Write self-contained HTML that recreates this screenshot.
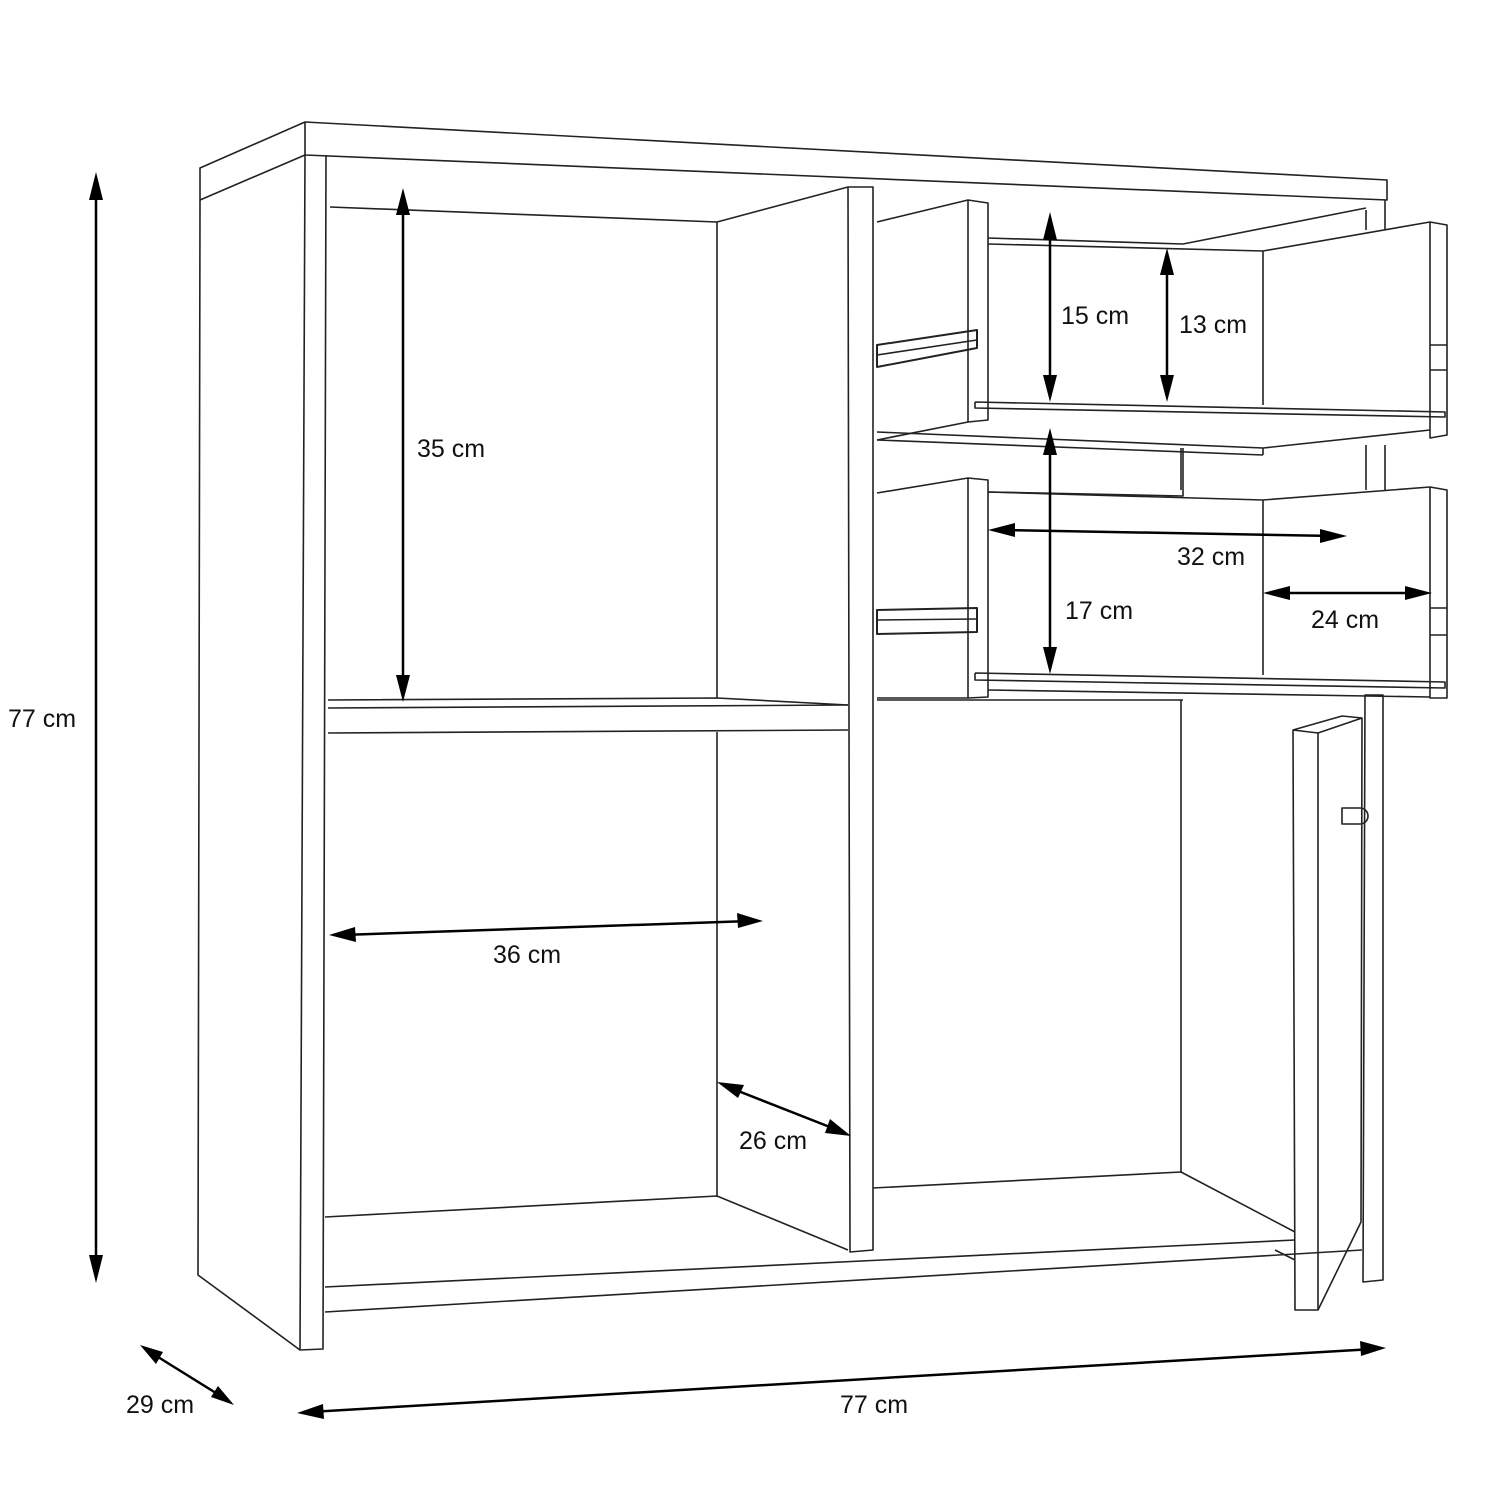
<!DOCTYPE html>
<html><head><meta charset="utf-8"><style>
html,body{margin:0;padding:0;background:#fff;}
svg{display:block}
text{font-family:"Liberation Sans",sans-serif;font-size:25px;fill:#111}
</style></head><body>
<svg width="1500" height="1500" viewBox="0 0 1500 1500" xmlns="http://www.w3.org/2000/svg">
<defs>
<marker id="a" viewBox="0 0 10 10" refX="9" refY="5" markerWidth="7" markerHeight="7" orient="auto-start-reverse" markerUnits="userSpaceOnUse">
</marker>
</defs>
<g fill="none" stroke="#222" stroke-width="1.6" stroke-linejoin="round">
<!-- top slab -->
<polygon points="305,122 1387,180 1387,200 305,155"/>
<polyline points="305,122 200,168 200,200 305,155"/>
<!-- left side -->
<polyline points="200,200 198,1275 300,1350 323,1349 326,155"/>
<line x1="305" y1="155" x2="300" y2="1350"/>
<!-- left compartment back -->
<polyline points="330,207 717,222 848,187"/>
<line x1="717" y1="222" x2="717" y2="698"/>
<line x1="717" y1="732" x2="717" y2="1197"/>
<!-- center divider -->
<polygon points="848,187 873,187 873,1250 850,1252"/>
<!-- shelf -->
<polyline points="328,700 717,698 848,705"/>
<line x1="328" y1="708" x2="848" y2="705"/>
<line x1="328" y1="733" x2="848" y2="730"/>
<!-- bottom -->
<polyline points="325,1217 717,1196 848,1250"/>
<polyline points="873,1188 1181,1172 1295,1232"/>
<line x1="325" y1="1287" x2="1295" y2="1240"/>
<line x1="325" y1="1312" x2="1362" y2="1250"/>
<polyline points="1275,1250 1295,1260"/>
<!-- right back & side -->
<line x1="1181" y1="700" x2="1181" y2="1172"/>
<line x1="1181" y1="448" x2="1181" y2="490"/>
<line x1="1366" y1="210" x2="1366" y2="230"/>
<polygon points="1365,695 1383,695 1383,1280 1363,1282"/>
<line x1="1366" y1="445" x2="1366" y2="490"/>
<line x1="1385" y1="445" x2="1385" y2="490"/>
<line x1="1385" y1="200" x2="1385" y2="230"/>
<!-- door -->
<polygon points="1293,730 1318,733 1318,1310 1295,1310"/>
<polyline points="1293,730 1342,716 1362,718 1318,733"/>
<polyline points="1362,718 1361,1222 1318,1310"/>
<path d="M1342,808 h18 a8,8 0 0 1 0,16 h-18 z"/>
<!-- upper drawer -->
<polyline points="877,222 968,200 988,203 988,420 968,422 968,200"/>
<polyline points="877,440 968,422"/>
<polyline points="988,238 1183,244 1366,208"/>
<polyline points="988,244 1263,251 1430,222 1447,225 1447,435 1430,438 1430,222"/>
<line x1="1263" y1="251" x2="1263" y2="405"/>
<polyline points="975,402 1445,412 1445,417 975,408 975,402"/>
<polyline points="877,432 1263,448 1430,430"/>
<line x1="877" y1="440" x2="1263" y2="455"/>
<line x1="1263" y1="448" x2="1263" y2="455"/>
<polygon points="877,345 977,330 977,348 877,367" stroke-width="2"/>
<line x1="877" y1="355" x2="977" y2="340"/>
<!-- lower drawer -->
<polyline points="877,493 968,478 988,480 988,697 968,698 968,478"/>
<polyline points="877,698 968,698"/>
<polyline points="988,492 1183,496 1183,448"/>
<polyline points="988,492 1263,500 1430,487 1447,490 1447,698 1430,698 1430,487"/>
<line x1="1263" y1="500" x2="1263" y2="675"/>
<polyline points="975,673 1445,682 1445,688 975,680 975,673"/>
<line x1="988" y1="690" x2="1430" y2="697"/>
<polygon points="877,610 977,608 977,632 877,634" stroke-width="2"/>
<line x1="877" y1="620" x2="977" y2="619"/>
<line x1="877" y1="700" x2="1183" y2="700"/>
<line x1="1430" y1="345" x2="1447" y2="345"/>
<line x1="1430" y1="370" x2="1447" y2="370"/>
<line x1="1430" y1="608" x2="1447" y2="608"/>
<line x1="1430" y1="635" x2="1447" y2="635"/>
</g>
<!-- dimension arrows -->
<g stroke="#000" stroke-width="2.5" fill="#000">
<line x1="96" y1="185" x2="96" y2="1270"/>
<polygon points="96,172 89,200 103,200" stroke="none"/>
<polygon points="96,1283 89,1255 103,1255" stroke="none"/>
<line x1="403" y1="200" x2="403" y2="690"/>
<polygon points="403,188 396,215 410,215" stroke="none"/>
<polygon points="403,702 396,675 410,675" stroke="none"/>
<line x1="1050" y1="225" x2="1050" y2="390"/>
<polygon points="1050,212 1043,240 1057,240" stroke="none"/>
<polygon points="1050,402 1043,375 1057,375" stroke="none"/>
<line x1="1167" y1="260" x2="1167" y2="390"/>
<polygon points="1167,248 1160,275 1174,275" stroke="none"/>
<polygon points="1167,402 1160,375 1174,375" stroke="none"/>
<line x1="1050" y1="440" x2="1050" y2="662"/>
<polygon points="1050,428 1043,455 1057,455" stroke="none"/>
<polygon points="1050,674 1043,647 1057,647" stroke="none"/>
<line x1="1000" y1="530" x2="1335" y2="536"/>
<polygon points="988,530 1015,523 1015,537" stroke="none"/>
<polygon points="1347,536 1320,529 1320,543" stroke="none"/>
<line x1="1275" y1="593" x2="1420" y2="593"/>
<polygon points="1263,593 1290,586 1290,600" stroke="none"/>
<polygon points="1432,593 1405,586 1405,600" stroke="none"/>
<line x1="342" y1="935" x2="750" y2="921"/>
<polygon points="329,935 355,927 356,942" stroke="none"/>
<polygon points="763,921 737,913 738,928" stroke="none"/>
<line x1="728" y1="1087" x2="840" y2="1131"/>
<polygon points="717,1082 744,1085 738,1098" stroke="none"/>
<polygon points="851,1136 825,1133 830,1119" stroke="none"/>
<line x1="150" y1="1352" x2="224" y2="1398"/>
<polygon points="140,1345 163,1352 156,1364" stroke="none"/>
<polygon points="234,1405 211,1397 218,1386" stroke="none"/>
<line x1="310" y1="1412" x2="1373" y2="1349"/>
<polygon points="297,1413 323,1404 324,1419" stroke="none"/>
<polygon points="1386,1348 1360,1341 1361,1356" stroke="none"/>
</g>
<text x="8" y="727">77 cm</text>
<text x="417" y="457">35 cm</text>
<text x="1061" y="324">15 cm</text>
<text x="1179" y="333">13 cm</text>
<text x="1177" y="565">32 cm</text>
<text x="1065" y="619">17 cm</text>
<text x="1311" y="628">24 cm</text>
<text x="493" y="963">36 cm</text>
<text x="739" y="1149">26 cm</text>
<text x="126" y="1413">29 cm</text>
<text x="840" y="1413">77 cm</text>
</svg>
</body></html>
